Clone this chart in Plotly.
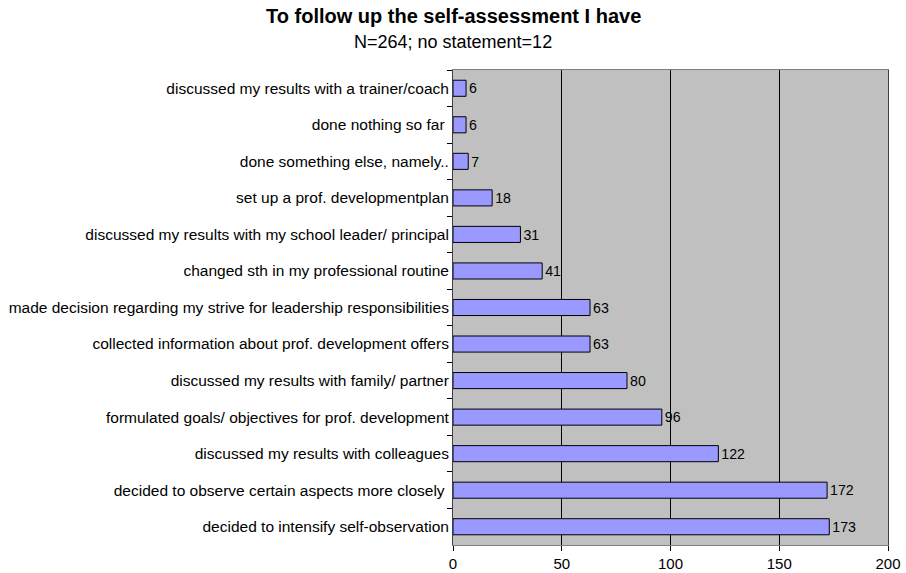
import plotly.graph_objects as go

categorias = [
    "discussed my results with a trainer/coach",
    "done nothing so far ",
    "done something else, namely..",
    "set up a prof. developmentplan",
    "discussed my results with my school leader/ principal",
    "changed sth in my professional routine",
    "made decision regarding my strive for leadership responsibilities",
    "collected information about prof. development offers",
    "discussed my results with family/ partner",
    "formulated goals/ objectives for prof. development",
    "discussed my results with colleagues",
    "decided to observe certain aspects more closely ",
    "decided to intensify self-observation",
]
valores = [6, 6, 7, 18, 31, 41, 63, 63, 80, 96, 122, 172, 173]

titulo = "To follow up the self-assessment I have"
subtitulo = "N=264; no statement=12"

fig = go.Figure()

fig.add_trace(go.Bar(
    x=valores,
    y=categorias,
    orientation="h",
    width=0.44,
    marker=dict(color="#9999FF", line=dict(color="#000000", width=1)),
    text=[str(v) for v in valores],
    textposition="outside",
    textfont=dict(size=15, color="#000000"),
    cliponaxis=False,
    hoverinfo="skip",
))

fig.update_layout(
    width=906,
    height=573,
    margin=dict(l=453, r=18, t=70, b=28),
    paper_bgcolor="#FFFFFF",
    plot_bgcolor="#C0C0C0",
    font=dict(family="Liberation Sans, Arial, sans-serif", size=15, color="#000000"),
    showlegend=False,
)

# titulo y subtitulo como anotaciones, centrados en la figura
fig.add_annotation(
    text="<b>" + titulo + "</b>", xref="paper", yref="paper",
    x=0.0, y=1 + 54 / 475, xanchor="center", yanchor="middle",
    showarrow=False, font=dict(size=20),
)
fig.add_annotation(
    text=subtitulo, xref="paper", yref="paper",
    x=0.0, y=1 + 28 / 475, xanchor="center", yanchor="middle",
    showarrow=False, font=dict(size=18),
)

fig.update_xaxes(
    range=[0, 200],
    tickvals=[0, 50, 100, 150, 200],
    showgrid=True,
    gridcolor="#000000",
    gridwidth=1,
    zeroline=False,
    showline=True,
    linecolor="#808080",
    mirror=True,
    ticks="outside",
    ticklen=5,
    tickcolor="#000000",
    tickfont=dict(size=15),
    automargin=False,
)

fig.update_yaxes(
    autorange="reversed",
    type="category",
    tickson="boundaries",
    ticks="outside",
    ticklen=5,
    tickcolor="#000000",
    showline=True,
    linecolor="#404040",
    mirror=True,
    showgrid=False,
    tickfont=dict(size=15.5),
    automargin=False,
)

# quitar el margen por defecto del body para que la figura empiece en 0,0
fig.write_html(
    "out.html",
    config={"displayModeBar": False},
    post_script="document.body.style.margin='0';",
)
